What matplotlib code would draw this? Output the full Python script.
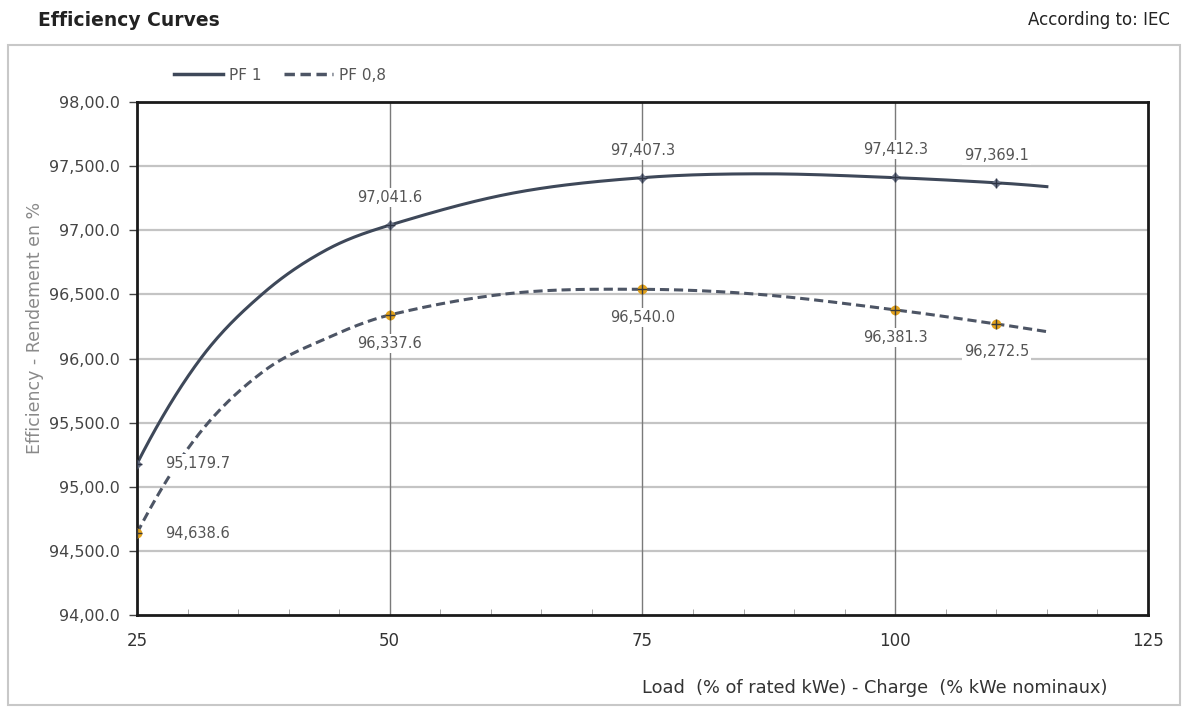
import numpy as np
import matplotlib
matplotlib.use("Agg")
import matplotlib.pyplot as plt
from matplotlib.patches import Rectangle
from matplotlib.lines import Line2D

# ---- data ----
load_pts = [25, 50, 75, 100, 110]
pf1_pts = [95.1797, 97.0416, 97.4073, 97.4123, 97.3691]
pf08_pts = [94.6386, 96.3376, 96.5400, 96.3813, 96.2725]
pf1_lbl = ["95,179.7", "97,041.6", "97,407.3", "97,412.3", "97,369.1"]
pf08_lbl = ["94,638.6", "96,337.6", "96,540.0", "96,381.3", "96,272.5"]

# points along the drawn (smoothed) curves
pf1_cx = [25, 31.2, 37.5, 43.8, 50, 62.2, 75, 87, 100, 110, 115]
pf1_cy = [95.18, 95.99, 96.51, 96.85, 97.04, 97.29, 97.41, 97.44, 97.41, 97.37, 97.34]
pf08_cx = [25, 31, 37.5, 43.8, 50, 62.2, 75, 86.6, 100, 110, 115]
pf08_cy = [94.64, 95.40, 95.90, 96.16, 96.34, 96.51, 96.54, 96.50, 96.38, 96.27, 96.21]

yticks = [94.0, 94.5, 95.0, 95.5, 96.0, 96.5, 97.0, 97.5, 98.0]
ytick_lbl = ["94,00.0", "94,500.0", "95,00.0", "95,500.0", "96,00.0",
             "96,500.0", "97,00.0", "97,500.0", "98,00.0"]
xticks = [25, 50, 75, 100, 125]

LINE, GOLD, TXT = "#3e4859", "#e3a21a", "#555555"


def smooth(xs, ys, n=40):
    # cubic Hermite rendering through the read points (tangents from neighbours)
    x = np.asarray(xs, float); y = np.asarray(ys, float)
    m = np.empty_like(y)
    m[1:-1] = (y[2:] - y[:-2]) / (x[2:] - x[:-2])
    m[0] = 2 * (y[1] - y[0]) / (x[1] - x[0]) - m[1]
    m[-1] = 2 * (y[-1] - y[-2]) / (x[-1] - x[-2]) - m[-2]
    ox, oy = [], []
    for i in range(len(x) - 1):
        h = x[i + 1] - x[i]
        t = np.linspace(0, 1, n)
        h00 = 2 * t**3 - 3 * t**2 + 1; h10 = t**3 - 2 * t**2 + t
        h01 = -2 * t**3 + 3 * t**2; h11 = t**3 - t**2
        ox.append(x[i] + h * t)
        oy.append(h00 * y[i] + h10 * h * m[i] + h01 * y[i + 1] + h11 * h * m[i + 1])
    return np.concatenate(ox), np.concatenate(oy)


fig = plt.figure(figsize=(11.88, 7.08), dpi=100)
ax = fig.add_axes([0.1153, 0.131, 0.851, 0.725])

# outer frame + title rule
fig.patches.append(Rectangle((8 / 1188, 3 / 708), 1172 / 1188, 660 / 708, transform=fig.transFigure,
                             fill=False, edgecolor="#c8c8c8", lw=1.5))
fig.text(38 / 1188, 1 - 20 / 708, "Efficiency Curves", fontsize=13.5, fontweight="bold",
         color="#222222", va="center", ha="left")
fig.text(1170 / 1188, 1 - 20 / 708, "According to: IEC", fontsize=12, color="#222222",
         va="center", ha="right")

# grid
for y in yticks[1:-1]:
    ax.axhline(y, color="#c4c4c4", lw=1.6, zorder=0)
for x in xticks[1:-1]:
    ax.axvline(x, color="#7a7a7a", lw=1.0, zorder=0)

# curves
sx, sy = smooth(pf1_cx, pf1_cy)
ax.plot(sx, sy, color=LINE, lw=2.2, zorder=2)
sx, sy = smooth(pf08_cx, pf08_cy)
ax.plot(sx, sy, color="#4d5565", lw=2.2, ls=(0, (3, 1.6)), zorder=2)

ax.plot(load_pts, pf1_pts, ls="none", marker="D", ms=4.5, color="#6c7488", zorder=3)
ax.plot(load_pts, pf1_pts, ls="none", marker="+", ms=7, mew=1, color="#2e3545", zorder=4)
ax.plot(load_pts, pf08_pts, ls="none", marker="o", ms=6, color=GOLD, zorder=3)
ax.plot(load_pts, pf08_pts, ls="none", marker="+", ms=7, mew=1, color="#3a3a3a", zorder=4)

# data labels
box = dict(facecolor="white", edgecolor="none", pad=1.5)
for i, (x, y, s) in enumerate(zip(load_pts, pf1_pts, pf1_lbl)):
    if i == 0:
        ax.annotate(s, (x, y), xytext=(20, 0), textcoords="offset points", fontsize=10.5,
                    color=TXT, va="center", ha="left", bbox=box, zorder=5)
    else:
        ax.annotate(s, (x, y), xytext=(0, 20), textcoords="offset points", fontsize=10.5,
                    color=TXT, va="center", ha="center", bbox=box, zorder=5)
for i, (x, y, s) in enumerate(zip(load_pts, pf08_pts, pf08_lbl)):
    if i == 0:
        ax.annotate(s, (x, y), xytext=(20, 0), textcoords="offset points", fontsize=10.5,
                    color=TXT, va="center", ha="left", bbox=box, zorder=5)
    else:
        ax.annotate(s, (x, y), xytext=(0, -20), textcoords="offset points", fontsize=10.5,
                    color=TXT, va="center", ha="center", bbox=box, zorder=5)

# axes
ax.set_xlim(25, 125)
ax.set_ylim(94, 98)
ax.set_yticks(yticks)
ax.set_yticklabels(ytick_lbl)
ax.set_xticks(xticks)
ax.set_xticks(np.arange(25, 126, 5), minor=True)
ax.tick_params(axis="y", labelsize=11.5, colors="#444444", length=6, width=1, direction="out", pad=6)
ax.tick_params(axis="x", labelsize=12, colors="#333333", length=0, pad=12)
ax.tick_params(axis="x", which="minor", length=4, direction="in", color="#999999")
for sp in ax.spines.values():
    sp.set_color("#1a1a1a")
    sp.set_linewidth(2)

fig.text(35 / 1188, 1 - 328 / 708, "Efficiency - Rendement en %", rotation=90, fontsize=12.5,
         color="#8a8a8a", ha="center", va="center")
fig.text(1107 / 1188, 1 - 688 / 708, "Load  (% of rated kWe) - Charge  (% kWe nominaux)",
         fontsize=12.8, color="#333333", ha="right", va="center")

# legend
handles = [Line2D([], [], color=LINE, lw=2.5),
           Line2D([], [], color="#4d5565", lw=2.5, ls=(0, (3, 1.6)))]
fig.legend(handles, ["PF 1", "PF 0,8"], loc="center left", bbox_to_anchor=(160 / 1188, 1 - 75 / 708),
           ncol=2, frameon=False, fontsize=11, handlelength=3.2, columnspacing=1.5,
           handletextpad=0.4, labelcolor="#555555")

fig.savefig("out.png", dpi=100)
